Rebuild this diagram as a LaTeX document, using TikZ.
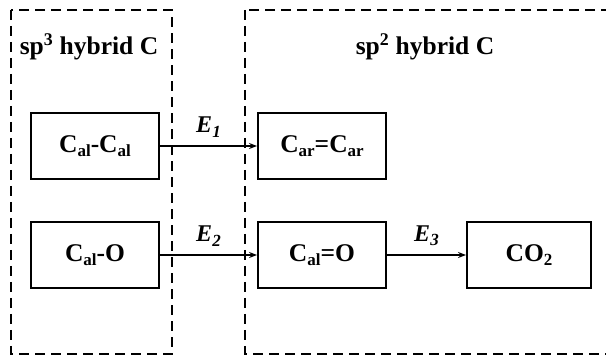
\documentclass[tikz,border=0pt]{standalone}
\usepackage{fontspec}
\setmainfont{Liberation Serif}
\usetikzlibrary{arrows.meta}
\newcommand{\sbs}[1]{\raisebox{-0.4ex}{\fontsize{17}{18}\selectfont #1}}
\begin{document}
\begin{tikzpicture}[x=1pt,y=-1pt,
  grp/.style={draw,line width=2.6pt,dash pattern=on 10pt off 6pt},
  box/.style={draw,line width=1.9pt,minimum width=128pt,minimum height=66pt,inner sep=0pt,font=\fontsize{25.5}{27}\selectfont\bfseries},
  ttl/.style={font=\fontsize{25.5}{27}\selectfont\bfseries,inner sep=0pt},
  lbl/.style={font=\fontsize{24}{26}\selectfont\bfseries\itshape,inner sep=0pt},
  arr/.style={line width=1.7pt,-{Stealth[length=8pt,width=6pt]}}]
\useasboundingbox (0,0) rectangle (606,358);
\clip (0,0) rectangle (606,358);
\fill[white] (0,0) rectangle (606,358);
\draw[grp] (11,10) rectangle (172,354);
\draw[grp] (245,10) rectangle (620,354);
\node[ttl] (t1) at (89,47) {sp\textsuperscript{3} hybrid C};
\node[ttl] (t2) at (425,47) {sp\textsuperscript{2} hybrid C};
\node[box] (cc) at (95,146) {C\sbs{al}-C\sbs{al}};
\node[box] (co) at (95,255) {C\sbs{al}-O};
\node[box] (car) at (322,146) {C\sbs{ar}=C\sbs{ar}};
\node[box] (cdo) at (322,255) {C\sbs{al}=O};
\node[box,minimum width=124pt] (co2) at (529,255) {CO\sbs{2}};
\draw[arr] (cc) -- node[lbl,above=8pt] (e1) {E\sbs{1}} (car);
\draw[arr] (co) -- node[lbl,above=8pt] (e2) {E\sbs{2}} (cdo);
\draw[arr] (cdo) -- node[lbl,above=8pt] (e3) {E\sbs{3}} (co2);
\end{tikzpicture}
\end{document}
